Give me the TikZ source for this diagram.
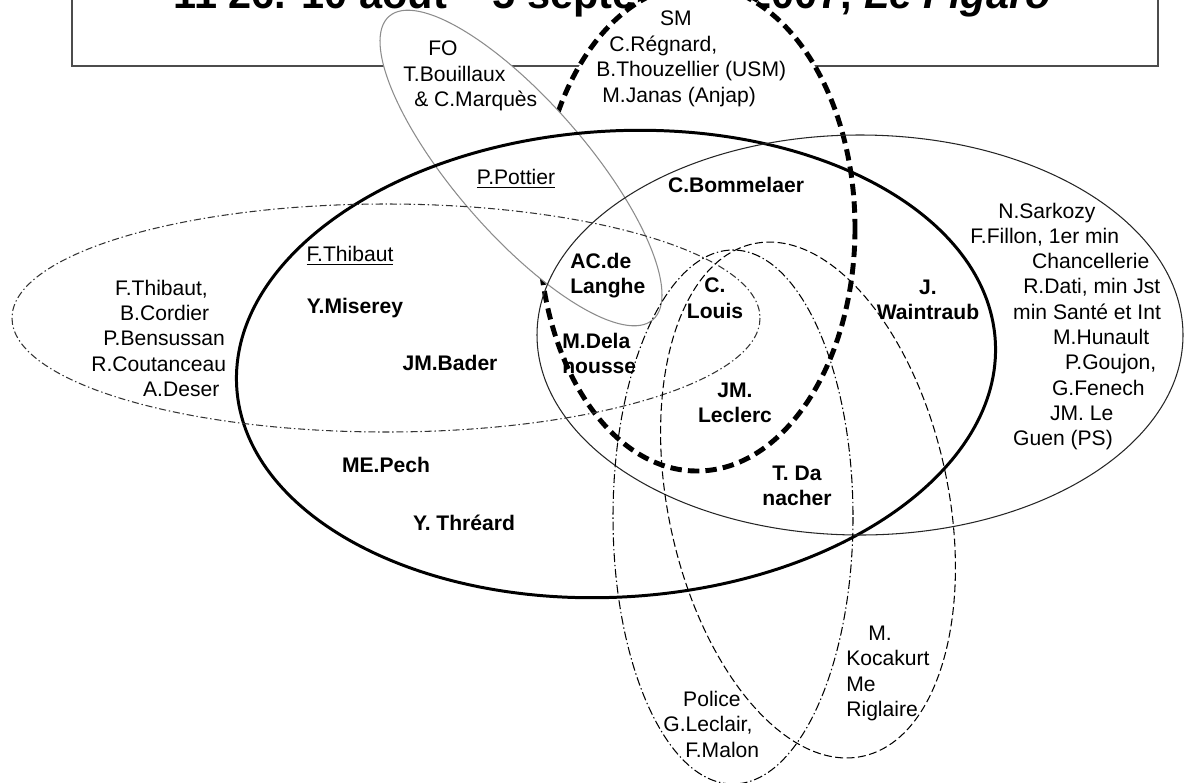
\documentclass[tikz,border=0pt]{standalone}
\usepackage{fontspec}
\setmainfont{Liberation Sans}
\begin{document}
\begin{tikzpicture}[x=0.02cm,y=-0.02cm,
  lbl/.style={inner sep=0pt,font=\fontsize{12}{14.5}\selectfont},
  bld/.style={inner sep=0pt,font=\fontsize{12}{14.5}\selectfont\bfseries},
  grp/.style={lbl,align=left,anchor=north west},
  thin/.style={line width=0.6pt},
  dashdot/.style={thin,dash pattern=on 4pt off 1.6pt on 0.8pt off 1.6pt}]
\useasboundingbox (0,0) rectangle (1186,782);
\clip (0,0) rectangle (1186,782);
% titre
\draw[line width=0.8pt,black!70] (72,-40) rectangle (1158,66);
\node[anchor=base west,inner sep=0pt,font=\fontsize{23.6}{28}\selectfont\bfseries] (titre) at (173,8) {11 26. 10 août – 5 septembre 2007, \textit{Le Figaro}};
% SM et FO (remplis)
\draw[line width=2.8pt,dash pattern=on 6.5pt off 3.5pt,fill=white] (697,228) ellipse [x radius=158,y radius=243];
\draw[thin,black!45,fill=white,shift={(521,168)},rotate=-49] (0,0) ellipse [x radius=201,y radius=66];
% les autres
\draw[line width=1.7pt,rotate around={3.5:(616,364)}] (616,364) ellipse [x radius=380,y radius=233];
\draw[thin,black!85] (860,335) ellipse [x radius=323,y radius=200];
\draw[dashdot,black!80] (386,318) ellipse [x radius=374,y radius=114];
\draw[thin,dash pattern=on 5pt off 1.6pt on 0.8pt off 1.6pt] (733,517) ellipse [x radius=120,y radius=267];
\draw[thin,dash pattern=on 4.5pt off 2pt,shift={(808,500)},rotate=12] (0,0) ellipse [x radius=140,y radius=262];
% textes
\node[grp] (gauche) at (91,279.4) {\hspace*{13.6pt}F.Thibaut,\\\hspace*{16.4pt}B.Cordier\\\hspace*{6.8pt}P.Bensussan\\R.Coutanceau\\\hspace*{29.5pt}A.Deser};
\node[grp] (fo) at (403,40.5) {\hspace*{14.2pt}FO\\T.Bouillaux\\\hspace*{6.2pt}\& C.Marquès};
\node[grp] (sm) at (596,10.5) {\hspace*{36.3pt}SM\\\hspace*{7.4pt}C.Régnard,\\B.Thouzellier (USM)\\\hspace*{3.4pt}M.Janas (Anjap)};
\node[grp,font=\fontsize{12}{14.4}\selectfont] (gouv) at (970,202.4) {\hspace*{15.9pt}N.Sarkozy\\F.Fillon, 1er min\\\hspace*{35.2pt}Chancellerie\\\hspace*{30.1pt}R.Dati, min Jst\\\hspace*{24.4pt}min Santé et Int\\\hspace*{47.1pt}M.Hunault\\\hspace*{53.9pt}P.Goujon,\\\hspace*{46.5pt}G.Fenech\\\hspace*{45.4pt}JM. Le\\\hspace*{24.4pt}Guen (PS)};
\node[grp] (police) at (663,690.5) {\hspace*{11.3pt}Police\\G.Leclair,\\\hspace*{12.5pt}F.Malon};
\node[grp] (kocakurt) at (846,625.5) {\hspace*{12.5pt}M.\\Kocakurt\\Me\\Riglaire};
\node[lbl,anchor=base] (thibaut) at (350,261.5) {\underline{F.Thibaut}};
\node[lbl,anchor=base] (pottier) at (516,184.5) {\underline{P.Pottier}};
\node[bld,align=left,anchor=north west] (langhe) at (570,252.5) {AC.de\\Langhe};
\node[bld,align=left,anchor=north west] (dela) at (562,332.5) {M.Dela\\housse};
\node[bld,align=center,anchor=north] (louis) at (715,277.5) {C.\\Louis};
\node[bld,align=center,anchor=north] (leclerc) at (735,382.5) {JM.\\Leclerc};
\node[bld,align=center,anchor=north] (danacher) at (797,465.5) {T. Da\\nacher};
\node[bld,align=center,anchor=north] (waintraub) at (928,279.5) {J.\\Waintraub};
\node[bld,anchor=base] (bommelaer) at (736,192) {C.Bommelaer};
\node[bld,anchor=base] (miserey) at (355,313.5) {Y.Miserey};
\node[bld,anchor=base] (bader) at (450,370.5) {JM.Bader};
\node[bld,anchor=base] (pech) at (386,472.5) {ME.Pech};
\node[bld,anchor=base] (threard) at (464,530.5) {Y. Thréard};
\end{tikzpicture}
\end{document}
